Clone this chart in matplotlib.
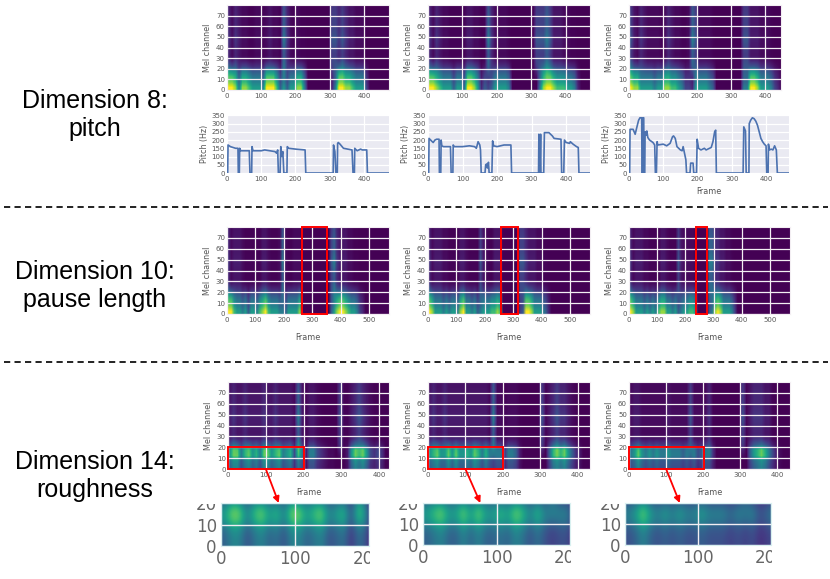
import numpy as np
import matplotlib
matplotlib.use("Agg")
import matplotlib.pyplot as plt
from matplotlib.patches import Rectangle, ConnectionPatch
from matplotlib.lines import Line2D

W, H = 830, 579
BIN = 10          # frames per envelope bin
N_MEL = 80

# =============================================================================
# Spectrogram envelopes (0-9, one value per 10 frames)
#   *_LO : energy in the low mel channels, *_HI : energy in channels 20-80
# =============================================================================

# Row 1 (pitch)
R1L_LO = [9, 9, 8, 5, 8, 8, 7, 6, 6, 6, 5, 9, 9, 9, 7, 4, 6, 4, 6, 6,
          8, 8, 5, 0, 0, 0, 0, 0, 0, 0, 2, 5, 9, 9, 8, 8, 7, 6, 6, 6,
          3, 0, 0, 0, 0, 0, 0, 0]
R1L_HI = [5, 3, 5, 4, 3, 3, 2, 2, 3, 3, 2, 3, 4, 3, 3, 2, 7, 5, 3, 2,
          3, 2, 2, 1, 0, 0, 0, 0, 0, 0, 6, 6, 5, 6, 5, 4, 4, 3, 3, 3,
          1, 0, 0, 0, 0, 0, 0, 0]
R1M_LO = [9, 9, 8, 7, 6, 6, 6, 4, 6, 6, 4, 9, 9, 8, 6, 2, 4, 3, 4, 6,
          6, 6, 6, 5, 0, 0, 0, 0, 0, 0, 0, 0, 5, 8, 9, 9, 8, 7, 7, 7,
          6, 6, 5, 2, 0, 0, 0]
R1M_HI = [5, 3, 5, 4, 3, 3, 2, 2, 2, 2, 2, 4, 4, 3, 3, 1, 2, 7, 5, 3,
          3, 3, 3, 2, 0, 0, 0, 0, 0, 0, 0, 6, 6, 6, 7, 6, 4, 4, 4, 3,
          3, 2, 2, 1, 0, 0, 0]
R1R_LO = [9, 8, 8, 6, 6, 6, 6, 5, 6, 6, 8, 8, 7, 7, 6, 5, 3, 3, 2, 6,
          6, 6, 6, 5, 4, 0, 0, 0, 0, 0, 0, 0, 0, 5, 5, 9, 9, 8, 6, 6,
          6, 5, 3, 2, 0]
R1R_HI = [6, 4, 3, 5, 4, 3, 3, 3, 3, 2, 3, 5, 4, 3, 3, 2, 2, 3, 7, 6,
          3, 3, 3, 3, 2, 0, 0, 0, 0, 0, 0, 0, 0, 6, 6, 4, 4, 4, 3, 3,
          3, 2, 1, 0, 0]

# Row 2 (pause length)
R2L_LO = [9, 9, 7, 6, 6, 5, 6, 4, 6, 6, 5, 7, 8, 9, 7, 6, 6, 6, 5, 5,
          4, 6, 6, 6, 6, 8, 0, 0, 0, 0, 0, 0, 0, 0, 0, 0, 4, 6, 8, 9,
          9, 8, 7, 6, 6, 5, 3, 2, 0, 0, 0, 0, 0, 0, 0, 0, 0]
R2L_HI = [5, 3, 4, 4, 4, 3, 2, 2, 2, 2, 2, 2, 4, 4, 3, 2, 2, 2, 3, 7,
          3, 2, 2, 3, 3, 3, 0, 0, 0, 0, 0, 0, 0, 0, 0, 0, 6, 7, 5, 4,
          4, 4, 3, 3, 2, 2, 1, 0, 0, 0, 0, 0, 0, 0, 0, 0, 0]
R2M_LO = [9, 8, 6, 6, 6, 5, 6, 5, 6, 6, 5, 8, 9, 6, 6, 5, 6, 4, 5, 6,
          6, 6, 7, 7, 8, 7, 0, 0, 0, 0, 0, 0, 3, 4, 9, 9, 8, 6, 6, 6,
          5, 4, 2, 0, 0, 0, 0, 0, 0, 0, 0, 0, 0, 0, 0, 0, 0]
R2M_HI = [5, 3, 4, 4, 4, 3, 3, 2, 2, 2, 2, 4, 4, 3, 2, 2, 2, 2, 6, 4,
          3, 2, 2, 4, 4, 4, 0, 0, 0, 0, 0, 0, 6, 6, 5, 4, 4, 4, 3, 3,
          2, 2, 1, 0, 0, 0, 0, 0, 0, 0, 0, 0, 0, 0, 0, 0, 0]
R2R_LO = [9, 8, 6, 6, 6, 5, 6, 5, 6, 5, 7, 8, 8, 6, 6, 5, 6, 4, 5, 6,
          6, 7, 7, 6, 0, 0, 0, 0, 4, 5, 8, 9, 8, 6, 6, 6, 5, 3, 0, 0,
          0, 0, 0, 0, 0, 0, 0, 0, 0, 0, 0, 0, 0, 0, 0, 0, 0]
R2R_HI = [5, 3, 4, 4, 4, 3, 3, 2, 2, 2, 2, 4, 4, 3, 2, 2, 2, 6, 4, 3,
          3, 3, 3, 2, 0, 0, 0, 0, 7, 7, 5, 5, 4, 4, 3, 3, 2, 1, 0, 0,
          0, 0, 0, 0, 0, 0, 0, 0, 0, 0, 0, 0, 0, 0, 0, 0, 0]

# Row 3 (roughness)
R3L_LO = [7, 9, 9, 6, 8, 9, 7, 8, 6, 9, 9, 7, 8, 9, 6, 7, 8, 4, 8, 6,
          1, 6, 6, 4, 3, 2, 1, 1, 0, 0, 0, 2, 7, 9, 8, 9, 7, 4, 3, 4,
          3, 0, 0]
R3L_HI = [4, 5, 4, 4, 5, 4, 4, 4, 4, 5, 4, 4, 5, 4, 4, 4, 4, 3, 7, 4,
          2, 4, 4, 3, 2, 1, 0, 0, 0, 6, 2, 2, 4, 5, 6, 5, 4, 3, 2, 2,
          1, 0, 0]
R3M_LO = [7, 8, 9, 7, 7, 9, 7, 9, 7, 7, 8, 7, 9, 8, 6, 8, 6, 5, 6, 6,
          3, 6, 6, 5, 2, 0, 0, 0, 0, 0, 0, 0, 5, 8, 9, 8, 9, 7, 5, 3,
          2, 0, 0, 0]
R3M_HI = [4, 5, 4, 4, 5, 4, 4, 4, 4, 4, 4, 4, 4, 4, 4, 4, 3, 7, 3, 3,
          2, 3, 3, 3, 2, 0, 0, 0, 0, 0, 6, 2, 4, 5, 6, 5, 5, 4, 3, 2,
          1, 0, 0, 0]
R3R_LO = [6, 7, 9, 7, 6, 7, 6, 7, 6, 6, 7, 6, 6, 6, 5, 6, 5, 6, 4, 5,
          6, 6, 3, 0, 0, 0, 0, 0, 0, 0, 0, 0, 5, 7, 8, 9, 8, 6, 4, 2,
          1, 0, 0, 0]
R3R_HI = [3, 4, 4, 3, 3, 3, 3, 3, 3, 3, 4, 3, 3, 3, 3, 3, 6, 3, 3, 3,
          3, 5, 2, 0, 0, 0, 0, 0, 0, 0, 6, 2, 4, 5, 5, 5, 4, 4, 2, 1,
          0, 0, 0, 0]

# spectral shape over 16 bands of 5 mel channels (0-80)
LO_SHAPE_VOICED = [1.0, 0.8, 0.7, 0.5, 0.2, 0.05, 0, 0, 0, 0, 0, 0, 0, 0, 0, 0]
LO_SHAPE_ROUGH = [0.45, 0.5, 0.75, 0.7, 0.25, 0.05, 0, 0, 0, 0, 0, 0, 0, 0, 0, 0]
HI_SHAPE = [0, 0, 0.15, 0.35, 0.6, 0.7, 0.6, 0.65, 0.8, 0.9, 0.8, 0.7, 0.65,
            0.65, 0.6, 0.55]
LO_GAMMA = 1.5
HI_GAMMA = 3.0

# frame ranges of the x axes
R1_SPEC_XMAX = [473, 471, 446]
R1_PITCH_XMAX = [473, 469, 467]
R2_XMAX = [570, 570, 571]
R3_XMAX = [426, 433, 434]

# pauses marked in row 2 (start, end frame)
PAUSES = [(264, 353), (258, 318), (239, 275)]
# zoomed region in row 3: frames 0-200, mel channels 0-20
ZOOM_FRAMES = (0, 200)
ZOOM_MELS = (0, 20)

# =============================================================================
# Pitch contours (frame, Hz)
# =============================================================================
PITCH_L_FRAME = [0, 2, 3, 10, 25, 32, 33, 36, 37, 40, 65, 67, 72, 73, 76, 100,
                 110, 140, 145, 148, 150, 155, 157, 160, 163, 166, 175, 176,
                 180, 200, 228, 230, 310, 311, 315, 318, 322, 323, 325, 330,
                 340, 365, 368, 372, 373, 380, 385, 390, 395, 408, 410, 473]
PITCH_L_HZ = [0, 0, 170, 160, 150, 150, 0, 0, 150, 135, 135, 0, 0, 160, 135, 135,
              140, 130, 120, 140, 0, 0, 160, 100, 130, 0, 0, 160,
              150, 145, 140, 0, 0, 170, 130, 0, 0, 180, 185, 175,
              150, 140, 0, 0, 150, 135, 140, 145, 140, 140, 0, 0]

PITCH_M_FRAME = [0, 2, 3, 10, 15, 20, 25, 32, 33, 37, 38, 40, 45, 65, 67, 72,
                 73, 76, 100, 120, 135, 140, 145, 150, 152, 154, 165, 167, 170,
                 172, 175, 177, 185, 187, 190, 200, 210, 220, 240, 242, 320,
                 321, 323, 324, 326, 327, 329, 335, 337, 350, 360, 365, 385,
                 387, 393, 395, 400, 410, 412, 420, 430, 435, 437, 470]
PITCH_M_HZ = [0, 0, 210, 195, 185, 200, 205, 205, 0, 0, 200, 165, 160, 160, 0, 0,
              170, 160, 160, 165, 160, 150, 190, 170, 140, 0, 0, 50, 55,
              30, 65, 0, 0, 195, 165, 160, 165, 170, 170, 0, 0,
              235, 0, 0, 235, 0, 0, 0, 245, 245, 225, 210, 205,
              0, 0, 200, 185, 180, 190, 175, 160, 155, 0, 0]

PITCH_R_FRAME = [0, 2, 3, 12, 18, 22, 28, 32, 37, 38, 40, 41, 43, 44, 46, 47,
                 50, 52, 55, 60, 70, 75, 77, 80, 82, 84, 100, 110, 120, 127,
                 130, 135, 140, 150, 155, 158, 162, 166, 168, 178, 180, 187,
                 189, 197, 199, 203, 210, 215, 220, 225, 240, 245, 250, 253,
                 255, 333, 335, 340, 342, 350, 351, 355, 360, 365, 370, 375,
                 380, 385, 390, 395, 400, 402, 406, 407, 410, 415, 420, 425,
                 430, 433, 467]
PITCH_R_HZ = [0, 0, 265, 265, 235, 270, 320, 335, 335, 0, 0, 335, 335, 0, 0, 250,
              230, 255, 215, 200, 185, 170, 0, 0, 190, 170, 175, 165, 180, 220,
              225, 210, 160, 140, 135, 160, 120, 80, 0, 0, 60, 60,
              0, 0, 205, 150, 140, 145, 150, 140, 155, 190, 250, 260,
              0, 0, 280, 255, 0, 0, 300, 320, 335, 330, 315, 290,
              250, 210, 190, 175, 165, 0, 0, 175, 140, 145, 140, 165,
              140, 0, 0]

ROW_TITLES = ["Dimension 8:\npitch", "Dimension 10:\npause length",
              "Dimension 14:\nroughness"]

# =============================================================================
# helpers
# =============================================================================
TICK_COLOR = "#555555"
plt.rcParams["font.family"] = "DejaVu Sans"


def box(x0, y0, x1, y1):
    """pixel box (top-left origin) -> figure fraction rect"""
    return [x0 / W, 1 - y1 / H, (x1 - x0) / W, (y1 - y0) / H]


def make_spec(lo, hi, lo_shape):
    lo = (np.asarray(lo, float) / 9) ** LO_GAMMA
    hi = (np.asarray(hi, float) / 9) ** HI_GAMMA
    img = np.outer(lo_shape, lo) + np.outer(HI_SHAPE, hi)
    return np.clip(img, 0, 1)


def style_small(ax):
    ax.tick_params(length=0, labelsize=5, labelcolor=TICK_COLOR, pad=2.5)
    ax.tick_params(axis="y", pad=1.5)
    for s in ax.spines.values():
        s.set_color("#f3eef3")
        s.set_linewidth(0.8)


def draw_spec(ax, img, xmax, xlabel=False):
    ax.imshow(img, origin="lower", aspect="auto", cmap="viridis",
              vmin=0, vmax=1, interpolation="bilinear",
              extent=[0, img.shape[1] * BIN, 0, N_MEL])
    ax.set_xlim(0, xmax)
    ax.set_ylim(0, N_MEL)
    ax.set_xticks(np.arange(0, xmax, 100))
    ax.set_yticks(np.arange(0, 80, 10))
    ax.grid(True, color="#f3eef3", lw=0.9)
    ax.set_ylabel("Mel channel", fontsize=5.8, color=TICK_COLOR, labelpad=3)
    if xlabel:
        ax.set_xlabel("Frame", fontsize=5.8, color=TICK_COLOR, labelpad=7)
    style_small(ax)


def draw_pitch(ax, frames, hz, xmax, xlabel=False):
    ax.set_facecolor("#EAEAF2")
    ax.plot(frames, hz, color="#4C72B0", lw=1.2)
    ax.set_xlim(0, xmax)
    ax.set_ylim(0, 352)
    ax.set_xticks(np.arange(0, xmax, 100))
    ax.set_yticks(np.arange(0, 351, 50))
    ax.grid(True, color="white", lw=0.9)
    ax.set_axisbelow(True)
    ax.set_ylabel("Pitch (Hz)", fontsize=5.8, color=TICK_COLOR, labelpad=2)
    if xlabel:
        ax.set_xlabel("Frame", fontsize=5.8, color=TICK_COLOR, labelpad=3)
    style_small(ax)
    for s in ax.spines.values():
        s.set_visible(False)


# =============================================================================
# figure
# =============================================================================
fig = plt.figure(figsize=(W / 100, H / 100), dpi=100)

# --- row 1: spectrograms + pitch ------------------------------------------------
r1_spec_boxes = [(227, 5, 389, 90), (428, 5, 590, 90), (629, 5, 781, 90)]
r1_pitch_boxes = [(227, 115, 389, 173), (428, 115, 590, 173), (629, 115, 789, 173)]
r1_lo = [R1L_LO, R1M_LO, R1R_LO]
r1_hi = [R1L_HI, R1M_HI, R1R_HI]
pitch_f = [PITCH_L_FRAME, PITCH_M_FRAME, PITCH_R_FRAME]
pitch_h = [PITCH_L_HZ, PITCH_M_HZ, PITCH_R_HZ]
for i in range(3):
    ax = fig.add_axes(box(*r1_spec_boxes[i]))
    draw_spec(ax, make_spec(r1_lo[i], r1_hi[i], LO_SHAPE_VOICED), R1_SPEC_XMAX[i])
    ax = fig.add_axes(box(*r1_pitch_boxes[i]))
    draw_pitch(ax, pitch_f[i], pitch_h[i], R1_PITCH_XMAX[i], xlabel=(i == 2))

# --- row 2: spectrograms with pause boxes ---------------------------------------
r2_boxes = [(227, 227, 389, 314), (428, 227, 590, 314), (629, 227, 790, 314)]
r2_lo = [R2L_LO, R2M_LO, R2R_LO]
r2_hi = [R2L_HI, R2M_HI, R2R_HI]
for i in range(3):
    ax = fig.add_axes(box(*r2_boxes[i]))
    draw_spec(ax, make_spec(r2_lo[i], r2_hi[i], LO_SHAPE_VOICED), R2_XMAX[i],
              xlabel=True)
    p0, p1 = PAUSES[i]
    ax.add_patch(Rectangle((p0, 0.4), p1 - p0, N_MEL - 0.8, fill=False,
                           edgecolor="red", lw=1.4, zorder=5, clip_on=False))

# --- row 3: spectrograms, zoom boxes and zoomed insets --------------------------
r3_boxes = [(228, 382, 389, 469), (428, 382, 590, 469), (629, 382, 790, 469)]
inset_boxes = [(221, 503, 369, 546), (423, 503, 570, 545), (625, 503, 771, 545)]
arrow_end = [78, 78, 75]
r3_lo = [R3L_LO, R3M_LO, R3R_LO]
r3_hi = [R3L_HI, R3M_HI, R3R_HI]
for i in range(3):
    img = make_spec(r3_lo[i], r3_hi[i], LO_SHAPE_ROUGH)
    ax = fig.add_axes(box(*r3_boxes[i]))
    draw_spec(ax, img, R3_XMAX[i], xlabel=True)
    ax.add_patch(Rectangle((ZOOM_FRAMES[0] + 1, ZOOM_MELS[0] + 0.4),
                           ZOOM_FRAMES[1] - ZOOM_FRAMES[0],
                           ZOOM_MELS[1] - ZOOM_MELS[0], fill=False,
                           edgecolor="red", lw=1.4, zorder=5, clip_on=False))

    ins = fig.add_axes(box(*inset_boxes[i]))
    ins.imshow(img, origin="lower", aspect="auto", cmap="viridis",
               vmin=0, vmax=1, interpolation="bicubic",
               extent=[0, img.shape[1] * BIN, 0, N_MEL])
    ins.set_xlim(*ZOOM_FRAMES)
    ins.set_ylim(*ZOOM_MELS)
    ins.set_xticks([0, 100, 200])
    ins.set_yticks([0, 10, 20])
    ins.grid(True, color="#f3eef3", lw=1.0)
    ins.tick_params(length=0, labelsize=12, labelcolor="#666666", pad=3)
    for s in ins.spines.values():
        s.set_color("#d8f0f0")
        s.set_linewidth(0.8)

    con = ConnectionPatch(xyA=(100, 0), coordsA=ax.transData,
                          xyB=(arrow_end[i], 20), coordsB=ins.transData,
                          arrowstyle="-|>", color="red", lw=1.3,
                          mutation_scale=9, zorder=20)
    fig.add_artist(con)

    # the zoomed pictures are cropped: hide the cut parts of their labels
    x0, y0, x1, y1 = inset_boxes[i]
    fig.add_artist(Rectangle(((x0 - 28) / W, 1 - 503.5 / H), 27 / W, 14 / H,
                             transform=fig.transFigure, facecolor="white",
                             edgecolor="none", zorder=30))
    fig.add_artist(Rectangle(((x1 + 1) / W, 0), 16 / W, (H - y1 - 1) / H,
                             transform=fig.transFigure, facecolor="white",
                             edgecolor="none", zorder=30))

# --- row titles and separators --------------------------------------------------
for title, yc in zip(ROW_TITLES, [115, 286, 476]):
    fig.text(95 / W, 1 - yc / H, title, ha="center", va="center",
             fontsize=18, family="Liberation Sans", linespacing=1.2)

for yline in [207, 362]:
    fig.add_artist(Line2D([4 / W, 828 / W], [1 - yline / H] * 2,
                          transform=fig.transFigure, color="#222222",
                          lw=1.4, linestyle=(0, (3.2, 2.2))))

fig.savefig("out.png", dpi=100)
